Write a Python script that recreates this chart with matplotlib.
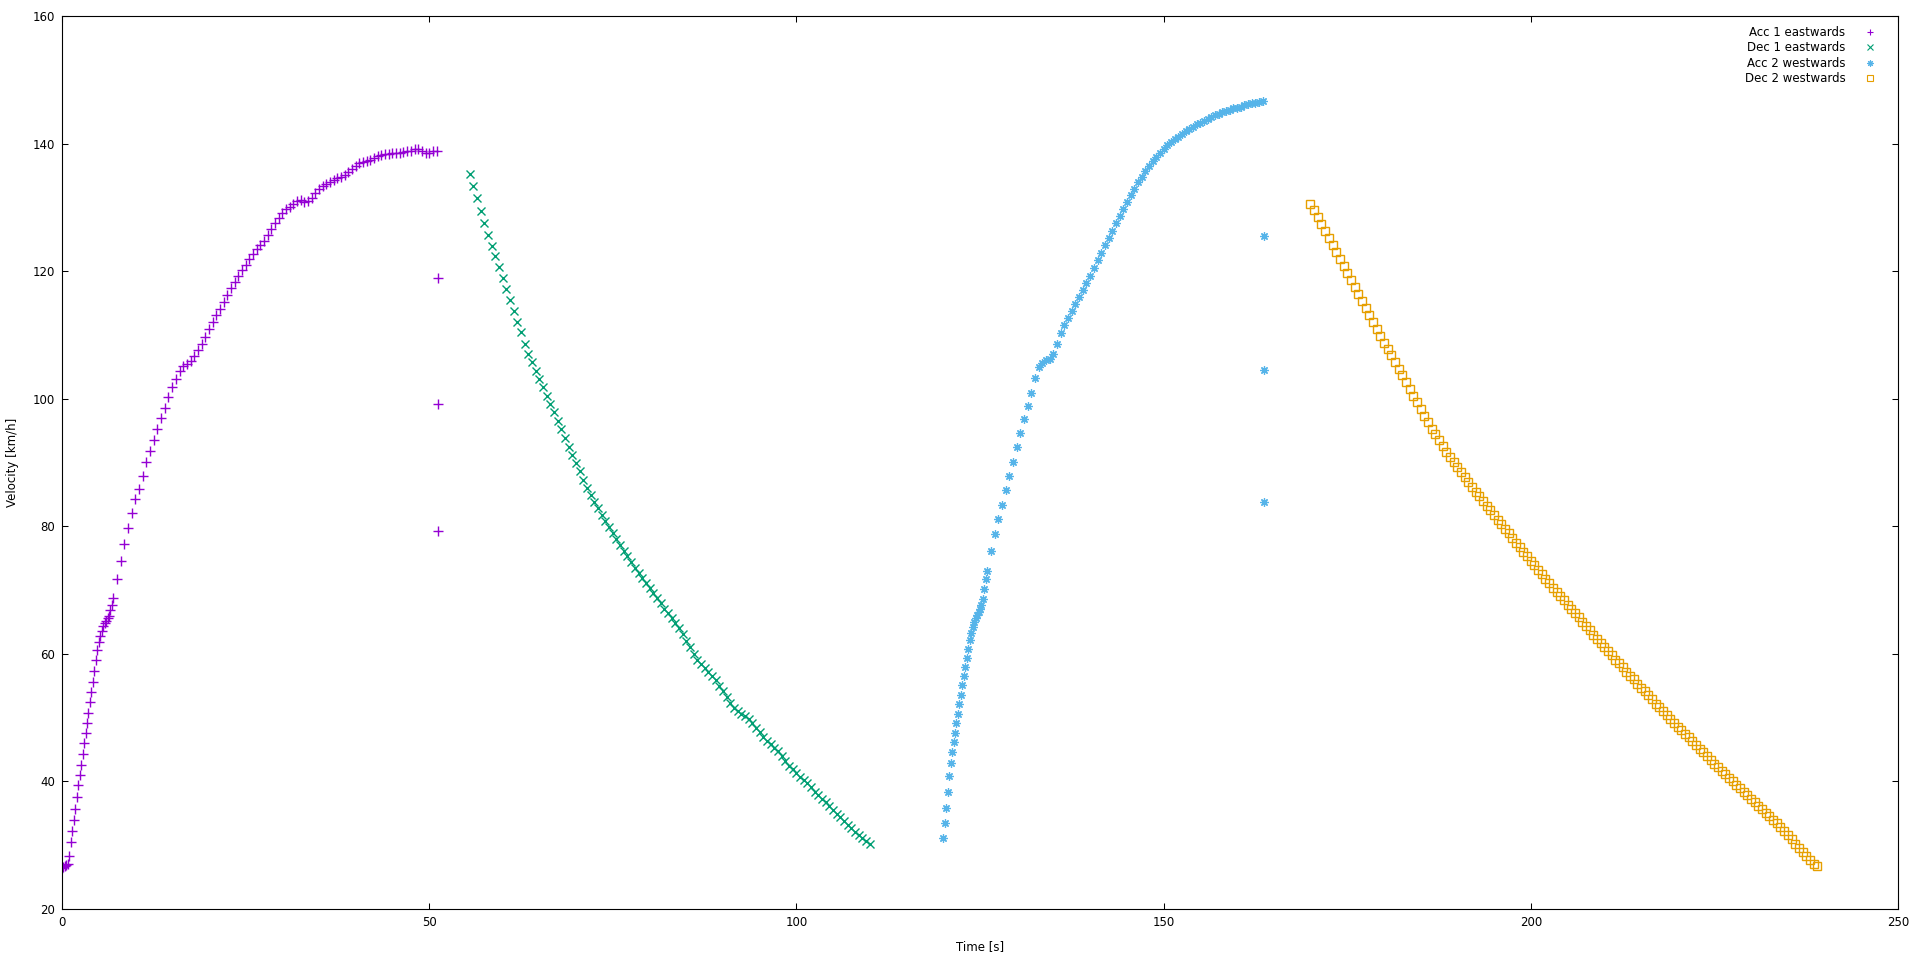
"""Velocity vs time for two acceleration / deceleration runs (gnuplot look)."""
import numpy as np
import matplotlib
matplotlib.use("Agg")
import matplotlib.pyplot as plt

# --- data --------------------------------------------------------------------
# Acc 1 eastwards: fast start sampled every 0.2 s, rest every 0.5 s
acc1_fast_start, acc1_fast_step = 0.0, 0.2
acc1_fast_v = [26.5, 26.6, 26.7, 26.9, 27.1,
               28.3, 30.5, 32.2, 33.9, 35.6, 37.6, 39.4, 41.0, 42.6, 44.3,
               46.0, 47.6, 49.2, 50.8, 52.4, 54.0, 55.6, 57.3, 59.1, 60.6,
               61.8, 62.8, 63.6, 64.3, 64.8, 65.2, 65.6, 66.0, 66.8, 67.7,
               68.8]
acc1_slow_start, acc1_slow_step = 7.5, 0.5
acc1_slow_v = [71.8, 74.5, 77.2, 79.7, 82.1,
               84.2, 85.9, 87.9, 90.0, 91.8, 93.5, 95.2, 96.9, 98.6, 100.3,
               101.8, 103.1, 104.4, 105.2, 105.5, 105.9, 106.7, 107.6, 108.6, 109.7,
               110.9, 112.1, 113.1, 114.1, 115.1, 116.2, 117.3, 118.3, 119.3, 120.2,
               121.0, 121.9, 122.7, 123.4, 124.1, 124.8, 125.6, 126.6, 127.6, 128.4,
               129.1, 129.7, 130.1, 130.6, 131.0, 131.1, 130.9, 131.0, 131.5, 132.2,
               132.8, 133.3, 133.7, 134.0, 134.3, 134.6, 134.8, 135.0, 135.5, 136.0,
               136.5, 136.9, 137.1, 137.3, 137.5, 137.7, 138.0, 138.2, 138.3, 138.4,
               138.5, 138.5, 138.6, 138.7, 138.8, 138.9, 139.1, 139.1, 138.9, 138.6,
               138.6, 138.8, 138.9]
acc1_glitch_t = [51.2, 51.2, 51.2]
acc1_glitch_v = [118.9, 99.1, 79.2]

# Dec 1 eastwards
dec1_start, dec1_step = 55.5, 0.5
dec1_v = [135.2, 133.3, 131.4, 129.5, 127.6, 125.7, 124.0, 122.3, 120.6,
          118.9, 117.2, 115.5, 113.8, 112.1, 110.4, 108.6, 107.0, 105.7, 104.4,
          103.1, 101.8, 100.5, 99.2, 97.9, 96.5, 95.2, 93.8, 92.5, 91.2,
          89.9, 88.6, 87.3, 86.0, 84.9, 83.8, 82.8, 81.8, 80.8, 79.9,
          79.0, 78.0, 77.1, 76.2, 75.3, 74.4, 73.5, 72.7, 71.9, 71.1,
          70.3, 69.5, 68.7, 67.9, 67.1, 66.4, 65.6, 64.8, 64.0, 63.1,
          62.0, 61.0, 60.0, 59.1, 58.4, 57.8, 57.2, 56.6, 55.9, 55.0,
          54.1, 53.2, 52.3, 51.5, 51.0, 50.6, 50.2, 49.8, 49.1, 48.4,
          47.7, 47.0, 46.4, 45.8, 45.3, 44.7, 44.0, 43.2, 42.4, 41.9,
          41.3, 40.7, 40.3, 39.8, 39.1, 38.4, 37.9, 37.3, 36.7, 36.1,
          35.5, 34.9, 34.4, 33.8, 33.2, 32.7, 32.1, 31.6, 31.1, 30.6,
          30.2]

# Acc 2 westwards
acc2_fast_start, acc2_fast_step = 120.0, 0.2
acc2_fast_v = [31.1, 33.5, 35.9, 38.3, 40.8, 42.9, 44.6, 46.2, 47.6, 49.1,
               50.6, 52.1, 53.6, 55.1, 56.6, 58.0, 59.4, 60.8, 62.1, 63.2,
               64.2, 65.0, 65.6, 66.1, 66.6, 67.1, 67.6, 68.6, 70.1, 71.7,
               73.0]
acc2_slow_start, acc2_slow_step = 126.5, 0.5
acc2_slow_v = [76.1, 78.8, 81.2, 83.4, 85.7, 87.9, 90.1,
               92.4, 94.6, 96.8, 98.8, 100.9, 103.2, 104.9, 105.6, 106.0, 106.3,
               107.0, 108.6, 110.3, 111.5, 112.6, 113.7, 114.8, 115.9, 117.0, 118.1,
               119.3, 120.5, 121.7, 122.9, 124.1, 125.2, 126.3, 127.5, 128.6, 129.8,
               130.9, 131.9, 132.9, 133.9, 134.8, 135.7, 136.5, 137.3, 137.9, 138.5,
               139.1, 139.7, 140.2, 140.7, 141.1, 141.5, 141.9, 142.3, 142.6, 143.0,
               143.3, 143.6, 143.9, 144.2, 144.5, 144.7, 144.9, 145.1, 145.3, 145.5,
               145.6, 145.8, 146.0, 146.2, 146.3, 146.4, 146.5, 146.6]
acc2_glitch_t = [163.7, 163.7, 163.7]
acc2_glitch_v = [125.5, 104.5, 83.8]

# Dec 2 westwards
dec2_start, dec2_step = 170.0, 0.5
dec2_v = [130.5, 129.6, 128.5, 127.4, 126.3, 125.2, 124.1, 123.0, 121.9, 120.8,
          119.7, 118.6, 117.5, 116.4, 115.3, 114.2, 113.1, 112.0, 110.9, 109.8,
          108.8, 107.8, 106.8, 105.7, 104.7, 103.7, 102.6, 101.6, 100.5, 99.5,
          98.4, 97.3, 96.3, 95.3, 94.4, 93.5, 92.6, 91.7, 90.9, 90.1,
          89.3, 88.5, 87.7, 86.9, 86.1, 85.4, 84.7, 84.0, 83.2, 82.5,
          81.8, 81.0, 80.3, 79.6, 78.9, 78.1, 77.4, 76.7, 76.0, 75.3,
          74.6, 73.9, 73.2, 72.5, 71.8, 71.1, 70.4, 69.7, 69.1, 68.4,
          67.7, 67.0, 66.4, 65.7, 65.0, 64.4, 63.7, 63.0, 62.4, 61.7,
          61.1, 60.4, 59.8, 59.1, 58.5, 57.9, 57.2, 56.6, 56.0, 55.3,
          54.7, 54.1, 53.5, 52.9, 52.2, 51.6, 51.0, 50.4, 49.8, 49.2,
          48.6, 48.0, 47.4, 46.9, 46.3, 45.7, 45.1, 44.6, 44.0, 43.4,
          42.8, 42.3, 41.7, 41.2, 40.6, 40.1, 39.5, 39.0, 38.4, 37.9,
          37.3, 36.8, 36.2, 35.7, 35.1, 34.6, 34.0, 33.5, 32.9, 32.3,
          31.6, 30.9, 30.2, 29.5, 28.9, 28.3, 27.7, 27.1, 26.7]

labels = ["Acc 1 eastwards", "Dec 1 eastwards", "Acc 2 westwards", "Dec 2 westwards"]
colors = ["#9400D3", "#009E73", "#56B4E9", "#E69F00"]


def sampled(start, step, values):
    """time stamps of a regularly sampled run"""
    return start + step * np.arange(len(values)), np.asarray(values)


def main():
    t1a, v1a = sampled(acc1_fast_start, acc1_fast_step, acc1_fast_v)
    t1b, v1b = sampled(acc1_slow_start, acc1_slow_step, acc1_slow_v)
    acc1_t = np.concatenate([t1a, t1b, acc1_glitch_t])
    acc1_vv = np.concatenate([v1a, v1b, acc1_glitch_v])

    dec1_t, dec1_vv = sampled(dec1_start, dec1_step, dec1_v)

    t2a, v2a = sampled(acc2_fast_start, acc2_fast_step, acc2_fast_v)
    t2b, v2b = sampled(acc2_slow_start, acc2_slow_step, acc2_slow_v)
    acc2_t = np.concatenate([t2a, t2b, acc2_glitch_t])
    acc2_vv = np.concatenate([v2a, v2b, acc2_glitch_v])

    dec2_t, dec2_vv = sampled(dec2_start, dec2_step, dec2_v)

    plt.rcParams["font.family"] = ["DejaVu Sans"]
    fig = plt.figure(figsize=(19.2, 9.61), dpi=100)
    ax = fig.add_axes([62 / 1920, 1 - 909 / 961, (1898 - 62) / 1920, (909 - 16) / 961])

    ax.plot(acc1_t, acc1_vv, linestyle="none", marker="+", ms=6.5, mew=1.0,
            color=colors[0], label=labels[0])
    ax.plot(dec1_t, dec1_vv, linestyle="none", marker="x", ms=5.5, mew=1.0,
            color=colors[1], label=labels[1])
    ax.plot(acc2_t, acc2_vv, linestyle="none", marker=(8, 2, 0), ms=6, mew=0.9,
            color=colors[2], label=labels[2])
    ax.plot(dec2_t, dec2_vv, linestyle="none", marker="s", ms=5.5, mew=1.0,
            color=colors[3], markerfacecolor="none", label=labels[3])

    ax.set_xlim(0, 250)
    ax.set_ylim(20, 160)
    ax.set_xticks(np.arange(0, 251, 50))
    ax.set_yticks(np.arange(20, 161, 20))
    ax.tick_params(direction="in", length=4.5, width=0.75, labelsize=8.5,
                   top=True, right=True, pad=5)
    for s in ax.spines.values():
        s.set_linewidth(0.8)

    ax.set_xlabel("Time [s]", fontsize=8.5, labelpad=8)
    ax.set_ylabel("Velocity [km/h]", fontsize=8.5, labelpad=10)

    leg = ax.legend(loc="upper right", bbox_to_anchor=(1876 / 1920, 1 - 26 / 961),
                    bbox_transform=fig.transFigure, frameon=False, markerfirst=False,
                    fontsize=8.5, handlelength=1.0, handletextpad=1.6,
                    labelspacing=0.2, borderpad=0, borderaxespad=0)
    for h in leg.legend_handles:
        h.set_markersize(4.5)
        h.set_markeredgewidth(0.8)

    fig.savefig("out.png", dpi=100)
    plt.close(fig)


if __name__ == "__main__":
    main()
